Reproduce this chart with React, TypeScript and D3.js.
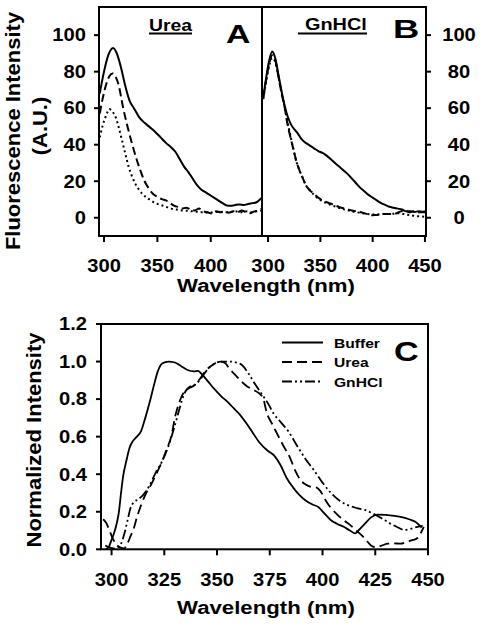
import React from "react";
import * as d3 from "d3";

// ---------- DATA ----------
// Panel A (Urea) fluorescence intensity
const aSolid: [number, number][] = [[296,68],[300,80],[304,89],[308.5,93],[312,90],[316,82],[320,72],[324,64],[328,60],[333,55],[338,52],[343,49.5],[348,47],[353,44],[358,41],[363,38.5],[367,36],[371,32],[375,28],[379,25],[383,21.5],[387,18],[391,15.5],[395,14],[399,12.5],[403,11],[407,9.5],[411,8],[415,6.7],[419,6.5],[423,7],[427,7.3],[431,7],[435,7.5],[439,8],[443,8.5],[446,10],[448,11]];
const aDashed: [number, number][] = [[296,57],[299,66],[302,73],[305,77.5],[308,79],[311,77],[314,72],[316,66],[318,60],[322,50],[326,41],[330,33],[334,26],[338,20],[342,16],[346,13],[350,11.5],[354,10.2],[358,9.5],[362,8],[366,6.5],[370,5.8],[373,5],[377,5.5],[381,4.5],[385,4],[389,5],[393,3.5],[397,3],[401,2.2],[405,3.5],[409,3],[413,3.5],[417,2.8],[421,3.5],[425,3],[429,4],[433,3],[437,2.5],[441,3.5],[445,4],[448,5]];
const aDotted: [number, number][] = [[296,44],[299,51],[302,56],[305,59.5],[308,58],[311,55],[314,49],[317,42],[320,35],[323,28],[326,23],[329,19],[332,16],[336,13],[340,11],[344,9.5],[348,8],[353,7],[358,6],[363,5],[368,4.5],[373,4],[378,3.8],[383,3.5],[388,3.2],[393,3],[398,2.8],[403,3],[408,3.2],[413,3],[418,3],[423,3.5],[428,3],[433,3.5],[438,3],[443,3.5],[448,4]];

// Panel B (GnHCl) fluorescence intensity
const bSolid: [number, number][] = [[295.5,66],[298,76],[301,86],[304,91],[307,87],[310,78],[313,69],[316,61],[319,55],[322,51],[325,48.5],[328,46.5],[332,43],[336,41],[340,39.5],[344,38],[348,36.5],[352,35.5],[356,34],[360,32],[364,30],[368,28],[372,26],[376,24],[380,21.5],[384,19],[388,16.5],[392,14.5],[396,12.5],[400,11],[404,9.5],[408,8],[412,7],[416,6],[420,5.5],[424,5],[428,4.5],[432,3.5],[436,3.5],[440,3.2],[444,3.5],[448,3.3],[451,3.5]];
const bDashed: [number, number][] = [[295.5,66],[298,75],[301,84],[304,89],[307,86],[310,77],[313,68],[316,60],[318,53],[321,45],[324,38],[327,31],[330,26],[333,22],[336,18],[340,15],[344,13],[348,11],[352,9.5],[356,8.5],[360,7.7],[365,6.5],[370,5.5],[375,4.8],[380,4],[385,3.5],[390,2.8],[395,2],[399,1.3],[403,1.5],[407,1.8],[411,2],[415,2],[419,2.2],[423,2.5],[427,3.5],[431,4],[435,3],[439,3.5],[443,3],[447,3],[451,3]];
const bDotted: [number, number][] = [[295.5,65],[298,74],[301,83],[304,87.5],[307,85],[310,77],[313,68],[316,60],[318,54],[321,46],[324,38],[327,31],[330,26],[333,22],[336,18],[340,15],[344,12.5],[348,10.5],[352,9],[356,8],[360,7],[365,6],[370,5],[375,4.2],[380,3.5],[385,3],[390,2.5],[395,2],[400,1.8],[405,1.8],[410,2],[415,2],[420,2.2],[425,2.5],[430,2],[435,1.5],[440,1],[445,0.8],[451,0.5]];

// Panel C normalized intensity
const cBuffer: [number, number][] = [[297.5,0],[299,0.02],[300,0.05],[301,0.08],[302.5,0.14],[303.5,0.2],[304.5,0.3],[305.5,0.39],[307,0.47],[308.5,0.54],[310,0.575],[312,0.6],[314,0.63],[316,0.7],[318,0.78],[320,0.87],[322,0.95],[324,0.99],[327,1.0],[330,0.995],[333,0.975],[336,0.955],[339,0.948],[341,0.95],[343,0.93],[346,0.89],[349,0.85],[352,0.815],[355,0.785],[358,0.75],[361,0.715],[364,0.67],[367,0.62],[370,0.57],[374,0.525],[377,0.5],[380,0.45],[383,0.38],[386,0.33],[389,0.29],[392,0.26],[395,0.24],[398,0.225],[401,0.19],[404,0.155],[407,0.135],[410,0.12],[413,0.1],[415.5,0.085],[417,0.1],[420,0.135],[423,0.17],[426,0.185],[430,0.183],[434,0.178],[438,0.17],[441,0.16],[444,0.147],[447,0.115]];
const cUrea: [number, number][] = [[296,0.16],[297.5,0.14],[299,0.1],[300.5,0.06],[302,0.03],[304,0.01],[306,0.005],[307.5,0.03],[309,0.07],[310.5,0.11],[312,0.17],[314,0.235],[316,0.29],[319,0.35],[322,0.42],[324,0.47],[326,0.53],[328.5,0.61],[330,0.7],[332,0.78],[334.5,0.84],[337,0.86],[339.5,0.875],[342,0.91],[344.5,0.95],[347,0.975],[350,0.995],[352,1.0],[354,0.99],[356,0.96],[358.5,0.93],[361,0.9],[364,0.87],[367,0.85],[370,0.83],[372,0.8],[373.5,0.73],[376,0.67],[378.5,0.615],[381.5,0.55],[384.5,0.49],[387,0.42],[389.5,0.37],[392,0.345],[394.5,0.333],[397,0.33],[399,0.31],[401.5,0.26],[404,0.22],[407,0.185],[410,0.155],[413,0.13],[416,0.1],[419,0.07],[421,0.045],[423,0.02],[425,0.012],[428,0.02],[431,0.03],[434,0.032],[437,0.03],[440,0.04],[443,0.05],[445,0.06],[446.5,0.085],[448,0.12]];
const cGnHCl: [number, number][] = [[297,0.02],[299,0.01],[301,0.005],[303,0.01],[304.5,0.03],[306,0.08],[307.5,0.15],[309,0.22],[310.5,0.25],[312.5,0.265],[315,0.29],[318,0.34],[321,0.41],[324,0.47],[327,0.55],[329.5,0.64],[332,0.74],[334.5,0.83],[337,0.865],[340,0.88],[343,0.92],[346,0.965],[349,0.99],[352,1.0],[356,1.0],[359,0.995],[362,0.98],[365,0.935],[368,0.88],[371,0.83],[374,0.78],[377,0.72],[380,0.68],[384,0.625],[388,0.55],[392,0.48],[396,0.42],[400,0.355],[404,0.3],[408,0.26],[412,0.235],[416,0.22],[420,0.21],[424,0.19],[428,0.165],[432,0.138],[436,0.115],[439,0.103],[442,0.11],[445,0.12],[447.5,0.125]];

const topYTicks = [0, 20, 40, 60, 80, 100];
const aXTicks = [300, 350, 400];
const bXTicks = [300, 350, 400, 450];
const cYTicks = [0, 0.2, 0.4, 0.6, 0.8, 1.0, 1.2];
const cXTicks = [300, 325, 350, 375, 400, 425, 450];
const legendLabels = ["Buffer", "Urea", "GnHCl"];

// ---------- STYLE ----------
const FONT = "'Liberation Sans', Arial, Helvetica, sans-serif";
const DASH = "8,4";
const DOT = "2,3";
const C_DASH = "10,5";
const C_DASHDOT = "10,3,2,3,2,3";
const TICK_FS = 18;
const TICK_SX = 1.12;

function T({ x, y, size, sx = 1, anchor = "middle", rot = false, children }: any) {
  const tr = `translate(${x},${y}) scale(${sx},1)${rot ? " rotate(-90)" : ""}`;
  return (
    <text transform={tr} fontFamily={FONT} fontWeight="bold" fontSize={size} textAnchor={anchor} fill="#000">
      {children}
    </text>
  );
}

export default function App() {
  // top panels
  const top = 7, bot = 236;
  const yTop = d3.scaleLinear().domain([-10, 115.4]).range([bot, top]);
  const xA = d3.scaleLinear().domain([295.3, 448]).range([99, 262]);
  const xB = d3.scaleLinear().domain([294.2, 451]).range([262, 426]);
  // panel C
  const cTop = 324, cBot = 549.3;
  const yC = d3.scaleLinear().domain([0, 1.2]).range([cBot, cTop]);
  const xC = d3.scaleLinear().domain([295, 450]).range([101, 428]);

  const mk = (xs: any, ys: any) =>
    d3.line<[number, number]>().x((d) => xs(d[0])).y((d) => ys(d[1])).curve(d3.curveMonotoneX);
  const lA = mk(xA, yTop), lB = mk(xB, yTop), lC = mk(xC, yC);

  const legendDash = [undefined, C_DASH, C_DASHDOT];

  return (
    <svg width={485} height={631} style={{ position: "absolute", left: 0, top: 0, background: "#fff" }}>
      <rect x={0} y={0} width={485} height={631} fill="#fff" />
      <defs>
        <clipPath id="clipA"><rect x={99} y={top} width={163} height={bot - top} /></clipPath>
        <clipPath id="clipB"><rect x={262} y={top} width={164} height={bot - top} /></clipPath>
        <clipPath id="clipC"><rect x={101} y={cTop} width={327} height={cBot - cTop} /></clipPath>
      </defs>
      {/* ===== Top panels ===== */}
      <g clipPath="url(#clipA)" fill="none" stroke="#000">
        <path d={lA(aSolid) || ""} strokeWidth={2} />
        <path d={lA(aDashed) || ""} strokeWidth={2} strokeDasharray={DASH} />
        <path d={lA(aDotted) || ""} strokeWidth={2} strokeDasharray={DOT} />
      </g>
      <g clipPath="url(#clipB)" fill="none" stroke="#000">
        <path d={lB(bSolid) || ""} strokeWidth={2} />
        <path d={lB(bDashed) || ""} strokeWidth={2} strokeDasharray={DASH} />
        <path d={lB(bDotted) || ""} strokeWidth={2} strokeDasharray={DOT} />
      </g>
      <rect x={99} y={top} width={327} height={bot - top} fill="none" stroke="#000" strokeWidth={2} />
      <line x1={262} x2={262} y1={top} y2={bot} stroke="#000" strokeWidth={2} />

      {topYTicks.map((t) => (
        <g key={"ay" + t}>
          <line x1={94} x2={99} y1={yTop(t)} y2={yTop(t)} stroke="#000" strokeWidth={2} />
          <T x={86} y={yTop(t) + 6.3} size={TICK_FS} sx={TICK_SX} anchor="end">{t}</T>
        </g>
      ))}
      {topYTicks.map((t) => (
        <g key={"by" + t}>
          <line x1={426} x2={431} y1={yTop(t)} y2={yTop(t)} stroke="#000" strokeWidth={2} />
          <T x={459} y={yTop(t) + 6.3} size={TICK_FS} sx={TICK_SX}>{t}</T>
        </g>
      ))}
      {aXTicks.map((t) => (
        <g key={"ax" + t}>
          <line x1={xA(t)} x2={xA(t)} y1={bot} y2={bot + 6} stroke="#000" strokeWidth={2} />
          <T x={xA(t)} y={272} size={TICK_FS} sx={TICK_SX}>{t}</T>
        </g>
      ))}
      {bXTicks.map((t) => (
        <g key={"bx" + t}>
          <line x1={xB(t)} x2={xB(t)} y1={bot} y2={bot + 6} stroke="#000" strokeWidth={2} />
          <T x={xB(t)} y={272} size={TICK_FS} sx={TICK_SX}>{t}</T>
        </g>
      ))}
      <T x={266} y={292} size={18.5} sx={1.2}>Wavelength (nm)</T>
      <T x={20} y={131} size={22} sx={0.95} rot>Fluorescence Intensity</T>
      <T x={47} y={126} size={22} sx={0.95} rot>(A.U.)</T>

      {/* panel labels */}
      <T x={149} y={30.5} size={17} sx={1.14} anchor="start">Urea</T>
      <line x1={149} x2={192} y1={33.5} y2={33.5} stroke="#000" strokeWidth={2} />
      <T x={305} y={30} size={17} sx={1.17} anchor="start">GnHCl</T>
      <line x1={298} x2={367} y1={33.5} y2={33.5} stroke="#000" strokeWidth={2} />
      <T x={226} y={42.7} size={25} sx={1.35} anchor="start">A</T>
      <T x={393} y={38} size={26} sx={1.4} anchor="start">B</T>

      {/* ===== Panel C ===== */}
      <g clipPath="url(#clipC)" fill="none" stroke="#000">
        <path d={lC(cBuffer) || ""} strokeWidth={1.8} />
        <path d={lC(cUrea) || ""} strokeWidth={1.8} strokeDasharray={C_DASH} />
        <path d={lC(cGnHCl) || ""} strokeWidth={1.8} strokeDasharray={C_DASHDOT} />
      </g>
      <rect x={101} y={cTop} width={327} height={cBot - cTop} fill="none" stroke="#000" strokeWidth={2} />
      {cYTicks.map((t) => (
        <g key={"cy" + t}>
          <line x1={96} x2={101} y1={yC(t)} y2={yC(t)} stroke="#000" strokeWidth={2} />
          <T x={87} y={yC(t) + 6.3} size={TICK_FS} sx={TICK_SX} anchor="end">{t.toFixed(1)}</T>
        </g>
      ))}
      {cXTicks.map((t) => (
        <g key={"cx" + t}>
          <line x1={xC(t)} x2={xC(t)} y1={cBot} y2={cBot + 6} stroke="#000" strokeWidth={2} />
          <T x={xC(t)} y={585.5} size={TICK_FS} sx={TICK_SX}>{t}</T>
        </g>
      ))}
      <T x={266} y={614} size={18.5} sx={1.2}>Wavelength (nm)</T>
      <T x={41} y={440} size={22} sx={0.95} rot>Normalized Intensity</T>
      {legendLabels.map((lab, i) => (
        <g key={lab}>
          <line x1={282} x2={323} y1={342.5 + i * 19.5} y2={342.5 + i * 19.5} stroke="#000" strokeWidth={2} strokeDasharray={legendDash[i]} />
          <T x={334} y={347.5 + i * 19.5} size={13} sx={1.2} anchor="start">{lab}</T>
        </g>
      ))}
      <T x={394} y={360.5} size={28} sx={1.22} anchor="start">C</T>
    </svg>
  );
}
